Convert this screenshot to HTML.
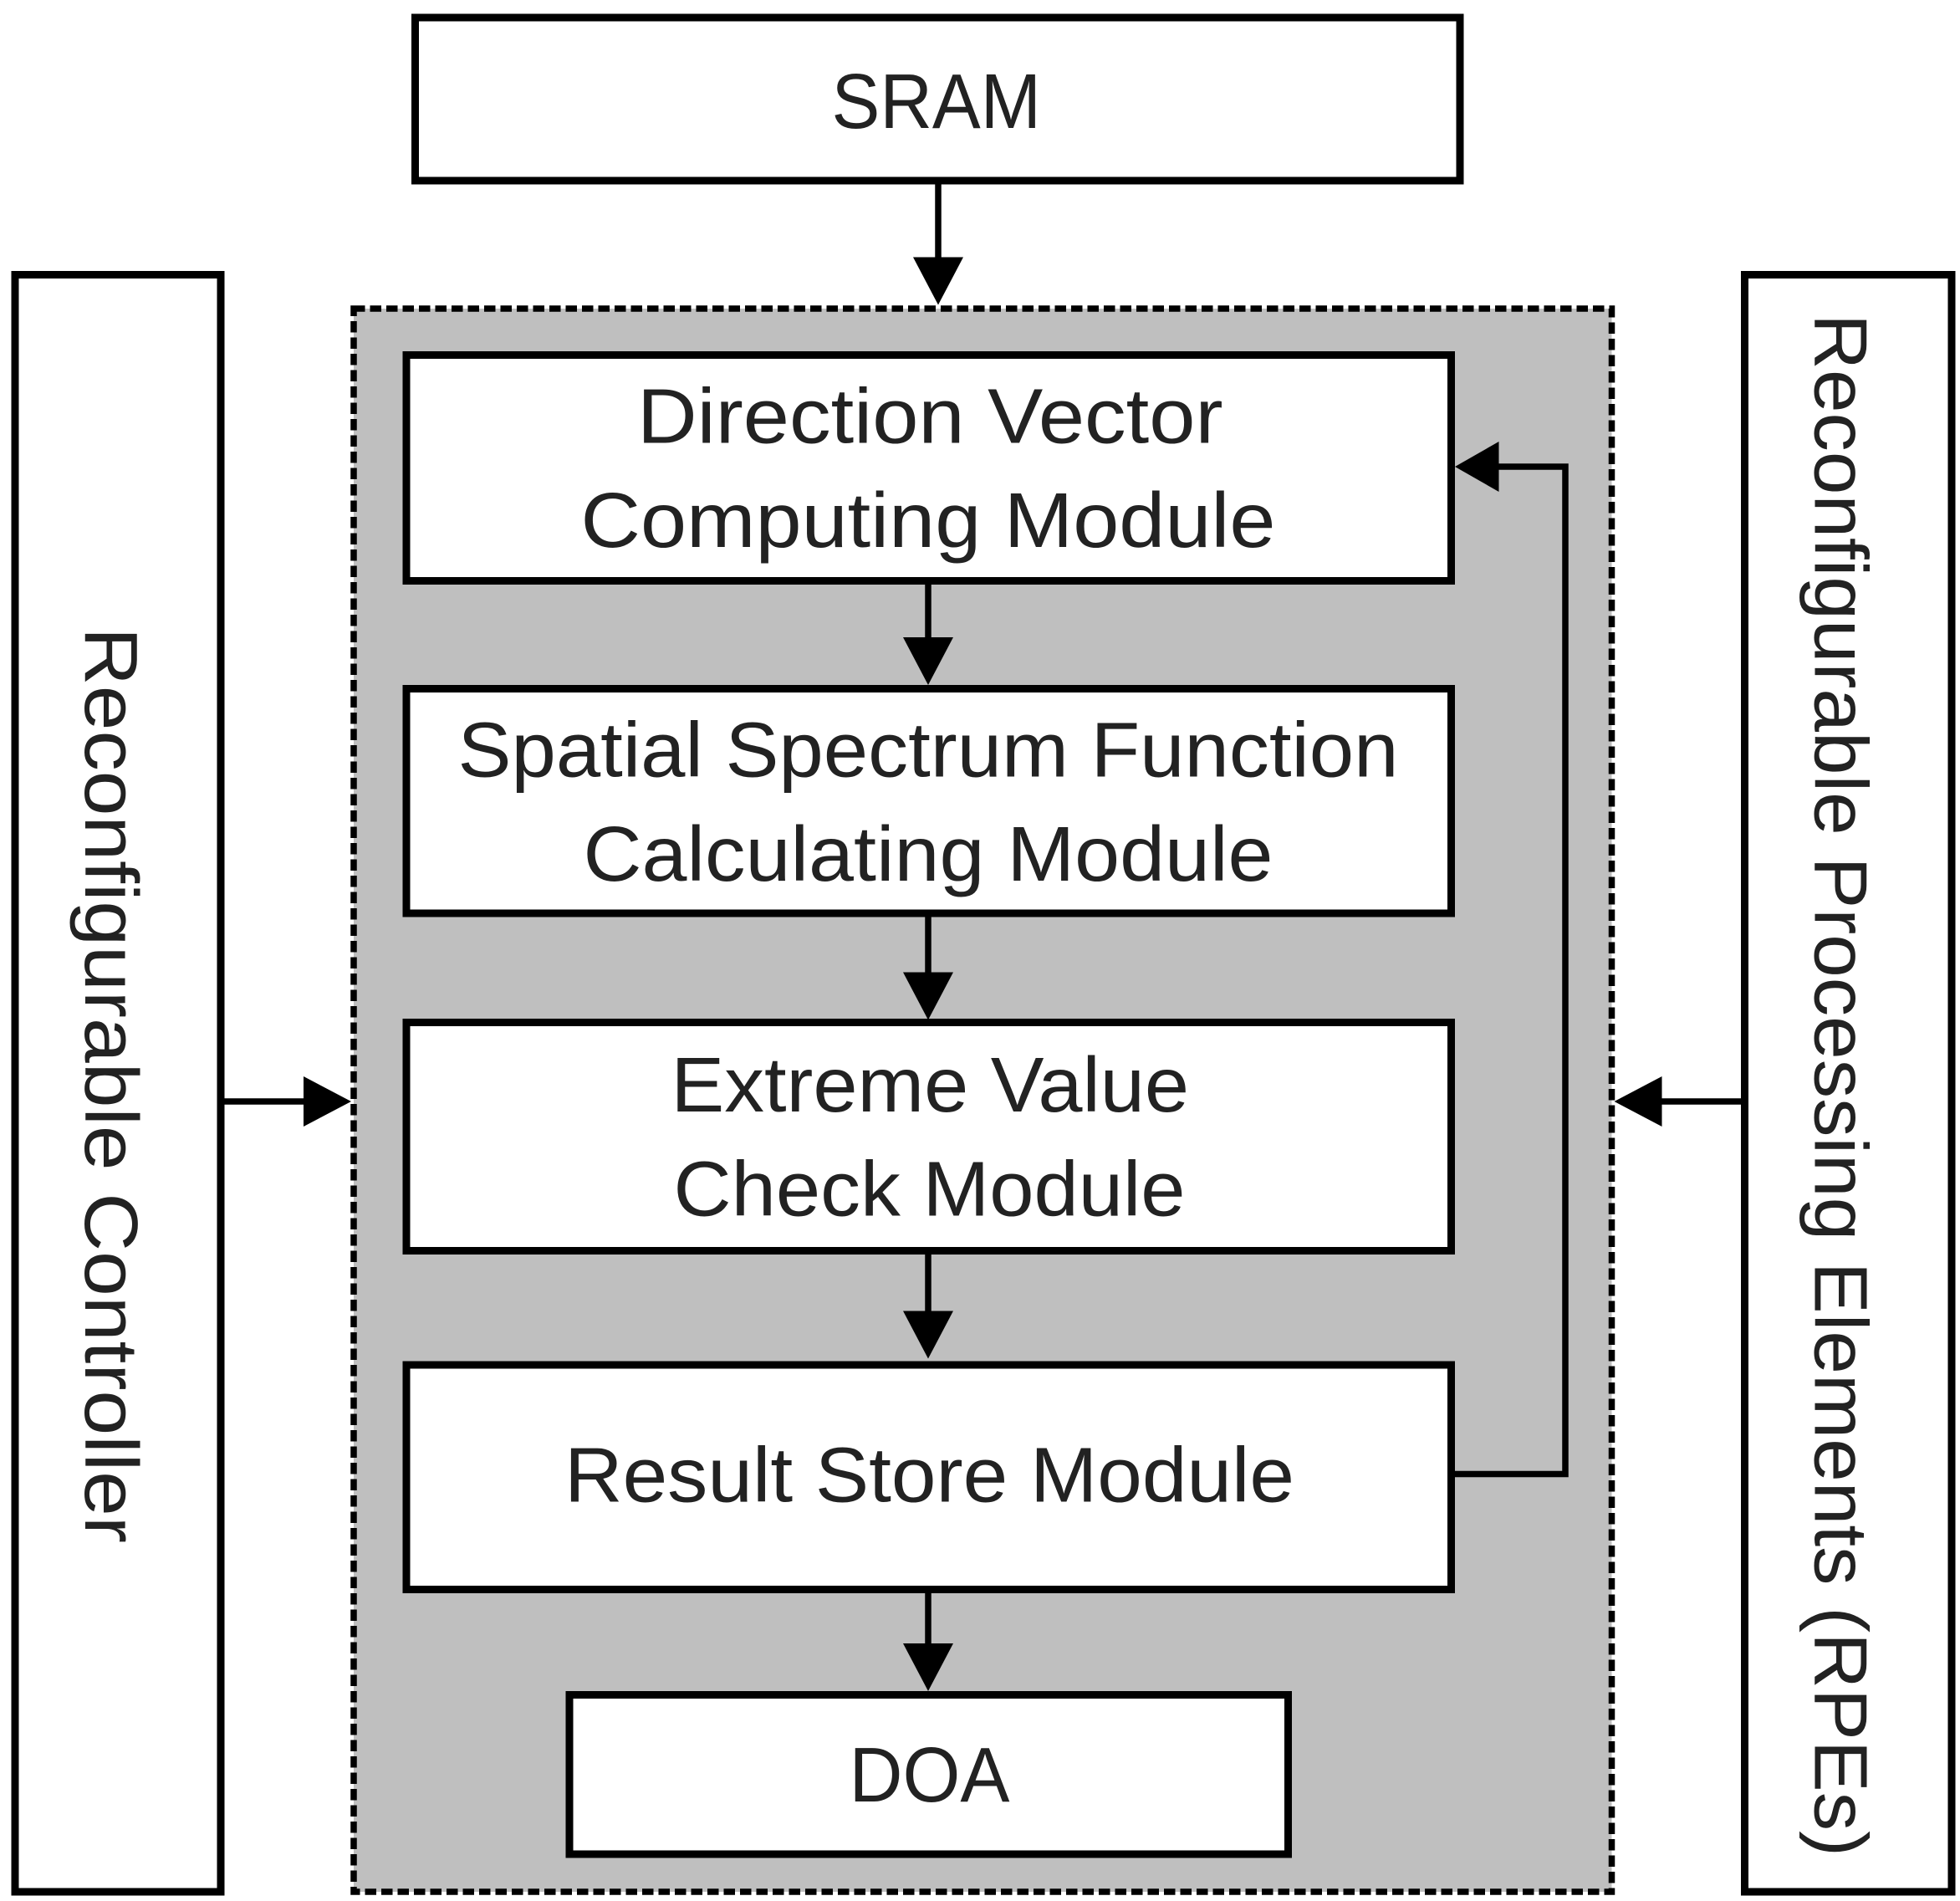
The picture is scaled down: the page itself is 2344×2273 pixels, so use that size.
<!DOCTYPE html>
<html><head><style>html,body{margin:0;padding:0;background:#fff}svg{display:block}</style></head>
<body>
<svg width="2344" height="2273" viewBox="0 0 1562.67 1515.33" preserveAspectRatio="none" xmlns="http://www.w3.org/2000/svg" font-family="Liberation Sans, sans-serif" fill="#222">
<rect x="0" y="0" width="1563" height="1516" fill="#fff"/>
<rect x="331" y="14" width="833" height="130" fill="#fff" stroke="#000" stroke-width="6"/>
<rect x="12" y="219" width="164" height="1289" fill="#fff" stroke="#000" stroke-width="6"/>
<rect x="1391" y="219" width="165" height="1289" fill="#fff" stroke="#000" stroke-width="6"/>
<rect x="282" y="246" width="1003" height="1262" fill="#bfbfbf" stroke="#000" stroke-width="5" stroke-dasharray="9,4"/>
<g fill="#fff" stroke="#000" stroke-width="6">
<rect x="324" y="283" width="833" height="180"/>
<rect x="324" y="549" width="833" height="179"/>
<rect x="324" y="815" width="833" height="182"/>
<rect x="324" y="1088" width="833" height="179"/>
<rect x="454" y="1351" width="573" height="127"/>
</g>
<g stroke="#000" stroke-width="5" fill="none">
<line x1="748" y1="144" x2="748" y2="212"/>
<line x1="740" y1="463" x2="740" y2="515"/>
<line x1="740" y1="728" x2="740" y2="785"/>
<line x1="740" y1="997" x2="740" y2="1055"/>
<line x1="740" y1="1267" x2="740" y2="1320"/>
<polyline points="1157,1175 1248,1175 1248,372 1190,372"/>
<line x1="176" y1="878" x2="245" y2="878"/>
<line x1="1391" y1="878" x2="1322" y2="878"/>
</g>
<g fill="#000">
<polygon points="728,205 768,205 748,243"/>
<polygon points="720,508 760,508 740,546"/>
<polygon points="720,775 760,775 740,813"/>
<polygon points="720,1045 760,1045 740,1083"/>
<polygon points="720,1310 760,1310 740,1348"/>
<polygon points="1195,352 1195,392 1160,372"/>
<polygon points="242,858 242,898 280,878"/>
<polygon points="1325,858 1325,898 1287,878"/>
</g>
<g font-size="62">
<text x="663" y="102" textLength="167" lengthAdjust="spacingAndGlyphs">SRAM</text>
<text x="508" y="353" textLength="467" lengthAdjust="spacingAndGlyphs">Direction Vector</text>
<text x="463" y="436" textLength="554" lengthAdjust="spacingAndGlyphs">Computing Module</text>
<text x="365" y="619" textLength="750" lengthAdjust="spacingAndGlyphs">Spatial Spectrum Function</text>
<text x="465" y="702" textLength="550" lengthAdjust="spacingAndGlyphs">Calculating Module</text>
<text x="535" y="886" textLength="413" lengthAdjust="spacingAndGlyphs">Extreme Value</text>
<text x="537" y="969" textLength="408" lengthAdjust="spacingAndGlyphs">Check Module</text>
<text x="450" y="1197" textLength="582" lengthAdjust="spacingAndGlyphs">Result Store Module</text>
<text x="677" y="1436" textLength="128" lengthAdjust="spacingAndGlyphs">DOA</text>
<text transform="translate(68,500) rotate(90)" font-size="60" textLength="730" lengthAdjust="spacingAndGlyphs">Reconfigurable Controller</text>
<text transform="translate(1447,250) rotate(90)" font-size="60" textLength="1230" lengthAdjust="spacingAndGlyphs">Reconfigurable Processing Elements (RPEs)</text>
</g>
</svg>
</body></html>
